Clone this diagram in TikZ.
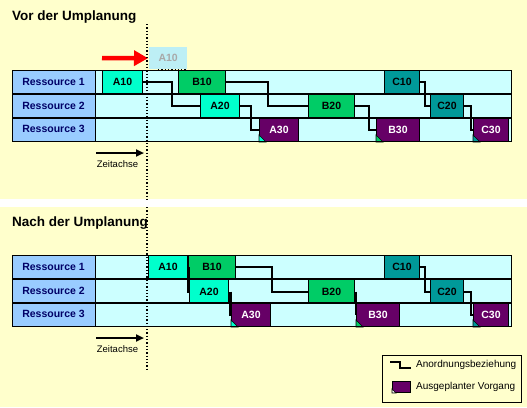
\documentclass[tikz,border=0pt]{standalone}
\usepackage{fontspec}
\setmainfont{Liberation Sans}
\usetikzlibrary{arrows.meta}
\definecolor{bgy}{HTML}{FFFFCC}
\definecolor{labblue}{HTML}{99CCFF}
\definecolor{rowcy}{HTML}{CCFFFF}
\definecolor{cola}{HTML}{00FFCC}
\definecolor{colb}{HTML}{00CC66}
\definecolor{colc}{HTML}{009999}
\definecolor{colp}{HTML}{660066}
\definecolor{navy}{HTML}{000066}
\definecolor{ghostc}{HTML}{BDEFF5}
\definecolor{ghostt}{HTML}{A8A8A8}
\tikzset{
  box/.style={draw=black,line width=1pt,anchor=north west,inner sep=0pt,
    minimum height=23pt,font=\fontsize{10.5}{12}\selectfont\bfseries},
  abox/.style={box,fill=cola},
  bbox/.style={box,fill=colb},
  cbox/.style={box,fill=colc},
  pbox/.style={box,fill=colp,text=white},
  reslabel/.style={font=\fontsize{10.5}{12}\selectfont\bfseries,text=navy,inner sep=0pt},
  conn/.style={draw=black,line width=2pt},
  thickconn/.style={draw=black,line width=2.6pt},
  title/.style={font=\fontsize{13.5}{15}\selectfont\bfseries,anchor=base west,inner sep=0pt},
  axislabel/.style={font=\fontsize{9.5}{11}\selectfont,inner sep=0pt},
  axisarrow/.style={draw=black,line width=2pt,-{Triangle[length=8pt,width=7pt]}},
  timeline/.style={draw=black,line width=1.3pt,dash pattern=on 1.3pt off 2pt},
  legtext/.style={font=\fontsize{10}{12}\selectfont,anchor=west,inner sep=0pt}
}
\newcommand{\ressgrid}[2]{% #1 = top y, #2 = prefix
  \fill[labblue] (12,#1) rectangle (95,#1+71);
  \fill[rowcy] (95,#1) rectangle (511,#1+71);
  \node[reslabel] (#2r1) at (53.5,#1+11.5) {Ressource 1};
  \node[reslabel] (#2r2) at (53.5,#1+35.5) {Ressource 2};
  \node[reslabel] (#2r3) at (53.5,#1+59) {Ressource 3};
}
\newcommand{\gridlines}[1]{%
  \draw[line width=1pt] (12,#1) rectangle (511,#1+71);
  \draw[line width=2pt] (12,#1+23.5) -- (511,#1+23.5);
  \draw[line width=2pt] (12,#1+47.5) -- (511,#1+47.5);
  \draw[line width=1pt] (95,#1) -- (95,#1+71);
}
\newcommand{\corner}[2]{% #1 node, #2 colour
  \filldraw[fill=#2,draw=black,line width=0.6pt] (#1.south west) -- ++(0,-7) -- ++(7,7) -- cycle;
}
\begin{document}
\begin{tikzpicture}[x=1pt,y=-1pt]
\useasboundingbox (0,0) rectangle (527,407);
\fill[bgy] (0,0) rectangle (527,407);
\fill[white] (0,199) rectangle (527,207);

% ---------------- Vor der Umplanung ----------------
\node[title] (t1) at (12,20) {Vor der Umplanung};
\ressgrid{70}{v}
% boxes row 1
\node[abox,minimum width=40pt] (vA10) at (102,70) {A10};
\node[bbox,minimum width=47pt] (vB10) at (178,70) {B10};
\node[cbox,minimum width=35pt] (vC10) at (384,70) {C10};
% row 2
\node[abox,minimum width=39pt,minimum height=24pt] (vA20) at (200,93) {A20};
\node[bbox,minimum width=46pt,minimum height=24pt] (vB20) at (308,93) {B20};
\node[cbox,minimum width=33pt,minimum height=24pt] (vC20) at (430,93) {C20};
% row 3
\node[pbox,minimum width=39pt,minimum height=24pt] (vA30) at (259,117) {A30};
\node[pbox,minimum width=43pt,minimum height=24pt] (vB30) at (376,117) {B30};
\node[pbox,minimum width=35pt,minimum height=24pt] (vC30) at (473,117) {C30};
\corner{vA30}{cola}
\corner{vB30}{colb}
\corner{vC30}{colc}
\gridlines{70}
% connectors
\draw[conn] (vA10.east) -- ++(29,0) |- (vA20.west);
\draw[conn] (vA20.east) -- ++(11,0) |- (vA30.west);
\draw[conn] (vB10.east) -- ++(42,0) |- (vB20.west);
\draw[conn] (vB20.east) -- ++(14,0) |- (vB30.west);
\draw[conn] (vC10.east) -- ++(5,0) |- (vC20.west);
\draw[conn] (vC20.east) -- ++(7,0) |- (vC30.west);
% ghost A10 and red arrow
\node[anchor=north west,fill=ghostc,inner sep=0pt,minimum width=38pt,minimum height=22pt,
  text=ghostt,font=\fontsize{10.5}{12}\selectfont\bfseries] (ghost) at (149,47) {A10};
\draw[black,line width=1.3pt,dash pattern=on 1.3pt off 2pt] (ghost.south west) ++(9,0) -- (ghost.south east);
\coordinate (redstart) at (102,58);
\draw[red,line width=4.5pt,-{Triangle[length=14pt,width=15pt]},shorten >=1pt] (redstart) -- (ghost.west);
% time axis
\coordinate (ax1s) at (96,153);
\coordinate (ax1e) at (144,153);
\draw[axisarrow] (ax1s) -- (ax1e);
\node[axislabel] (z1) at (117.5,164) {Zeitachse};
\coordinate (dl1s) at (147,24);
\coordinate (dl1e) at (147,199);
\draw[timeline] (dl1s) -- (dl1e);

% ---------------- Nach der Umplanung ----------------
\node[title] (t2) at (12,226.5) {Nach der Umplanung};
\ressgrid{255}{n}
\node[abox,minimum width=39pt] (nA10) at (148,255) {A10};
\node[bbox,minimum width=47pt] (nB10) at (188,255) {B10};
\node[cbox,minimum width=35pt] (nC10) at (384,255) {C10};
\node[abox,minimum width=39pt,minimum height=24pt] (nA20) at (189,279) {A20};
\node[bbox,minimum width=46pt,minimum height=24pt] (nB20) at (308,279) {B20};
\node[cbox,minimum width=33pt,minimum height=24pt] (nC20) at (430,279) {C20};
\node[pbox,minimum width=39pt,minimum height=24pt] (nA30) at (231,302) {A30};
\node[pbox,minimum width=43pt,minimum height=24pt] (nB30) at (356,302) {B30};
\node[pbox,minimum width=35pt,minimum height=24pt] (nC30) at (473,302) {C30};
\corner{nA30}{cola}
\corner{nB30}{colb}
\corner{nC30}{colc}
\gridlines{255}
\draw[thickconn] (nA10.east) ++(0.5,0) |- (nA20.west);
\draw[thickconn] (nA20.east) ++(1.5,0) |- (nA30.west);
\draw[conn] (nB10.east) -- ++(36,0) |- (nB20.west);
\draw[thickconn] (nB20.east) ++(1,0) |- (nB30.west);
\draw[conn] (nC10.east) -- ++(5,0) |- (nC20.west);
\draw[conn] (nC20.east) -- ++(7,0) |- (nC30.west);
\coordinate (ax2s) at (96,338);
\coordinate (ax2e) at (144,338);
\draw[axisarrow] (ax2s) -- (ax2e);
\node[axislabel] (z2) at (117.5,349) {Zeitachse};
\coordinate (dl2s) at (147,207);
\coordinate (dl2e) at (147,370);
\draw[timeline] (dl2s) -- (dl2e);

% ---------------- Legend ----------------
\node[draw=black,line width=1pt,anchor=north west,inner sep=0pt,minimum width=139pt,minimum height=47pt] (legend) at (382,355) {};
\coordinate (lc1) at (390,362);
\coordinate (lc2) at (411,368);
\draw[conn,line width=1.8pt] (lc1) -- (400,362) |- (lc2);
\node[legtext] (lt1) at (416,365) {Anordnungsbeziehung};
\node[draw=black,fill=colp,line width=1pt,anchor=north west,inner sep=0pt,minimum width=18pt,minimum height=11pt] (lbox) at (392,381) {};
\filldraw[fill=white,draw=black,line width=0.6pt] (lbox.south west) -- ++(0,-4) -- ++(4,4) -- cycle;
\node[legtext] (lt2) at (416,387) {Ausgeplanter Vorgang};
\end{tikzpicture}
\end{document}
